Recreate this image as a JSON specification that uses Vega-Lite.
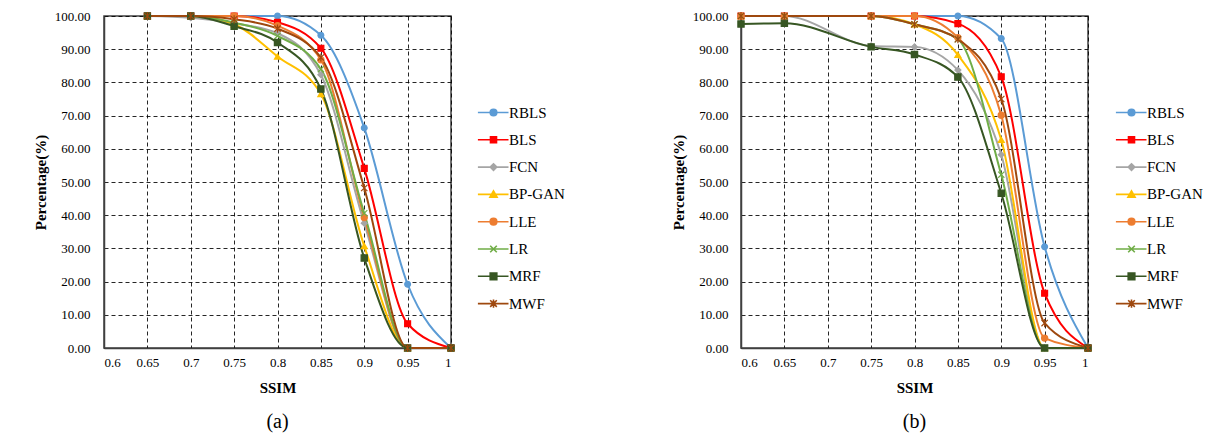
{
  "$schema": "https://vega.github.io/schema/vega-lite/v6.json",
  "background": "white",
  "padding": {"left": 32, "top": 8, "right": 2, "bottom": 2},
  "config": {
    "font": "Liberation Serif",
    "view": {"stroke": "#404040", "strokeWidth": 1.5},
    "axis": {
      "labelFont": "Liberation Serif", "labelFontSize": 13, "labelColor": "#000",
      "titleFont": "Liberation Serif", "titleFontSize": 15, "titleFontWeight": "bold", "titleColor": "#000",
      "gridColor": "#000", "gridDash": [4, 3], "gridWidth": 1, "gridOpacity": 0.85,
      "domainColor": "#404040", "domainWidth": 1.5, "ticks": false
    },
    "legend": {"labelFont": "Liberation Serif", "labelFontSize": 15, "labelColor": "#000"},
    "title": {"font": "Liberation Serif", "fontSize": 20, "fontWeight": "normal", "color": "#000"}
  },
  "datasets": {
    "a": [
      {"series": "RBLS", "SSIM": 0.65, "Percentage": 100}, {"series": "RBLS", "SSIM": 0.7, "Percentage": 100}, {"series": "RBLS", "SSIM": 0.75, "Percentage": 100}, {"series": "RBLS", "SSIM": 0.8, "Percentage": 100}, {"series": "RBLS", "SSIM": 0.85, "Percentage": 94.2}, {"series": "RBLS", "SSIM": 0.9, "Percentage": 66.3}, {"series": "RBLS", "SSIM": 0.95, "Percentage": 19.2}, {"series": "RBLS", "SSIM": 1.0, "Percentage": 0},
      {"series": "BLS", "SSIM": 0.65, "Percentage": 100}, {"series": "BLS", "SSIM": 0.7, "Percentage": 100}, {"series": "BLS", "SSIM": 0.75, "Percentage": 100}, {"series": "BLS", "SSIM": 0.8, "Percentage": 98.1}, {"series": "BLS", "SSIM": 0.85, "Percentage": 90.3}, {"series": "BLS", "SSIM": 0.9, "Percentage": 54.1}, {"series": "BLS", "SSIM": 0.95, "Percentage": 7.3}, {"series": "BLS", "SSIM": 1.0, "Percentage": 0},
      {"series": "FCN", "SSIM": 0.65, "Percentage": 100}, {"series": "FCN", "SSIM": 0.7, "Percentage": 99.5}, {"series": "FCN", "SSIM": 0.75, "Percentage": 97.8}, {"series": "FCN", "SSIM": 0.8, "Percentage": 94.8}, {"series": "FCN", "SSIM": 0.85, "Percentage": 82.3}, {"series": "FCN", "SSIM": 0.9, "Percentage": 37.6}, {"series": "FCN", "SSIM": 0.95, "Percentage": 0}, {"series": "FCN", "SSIM": 1.0, "Percentage": 0},
      {"series": "BP-GAN", "SSIM": 0.65, "Percentage": 100}, {"series": "BP-GAN", "SSIM": 0.7, "Percentage": 100}, {"series": "BP-GAN", "SSIM": 0.75, "Percentage": 97.5}, {"series": "BP-GAN", "SSIM": 0.8, "Percentage": 87.8}, {"series": "BP-GAN", "SSIM": 0.85, "Percentage": 76.5}, {"series": "BP-GAN", "SSIM": 0.9, "Percentage": 30.7}, {"series": "BP-GAN", "SSIM": 0.95, "Percentage": 0}, {"series": "BP-GAN", "SSIM": 1.0, "Percentage": 0},
      {"series": "LLE", "SSIM": 0.65, "Percentage": 100}, {"series": "LLE", "SSIM": 0.7, "Percentage": 100}, {"series": "LLE", "SSIM": 0.75, "Percentage": 100}, {"series": "LLE", "SSIM": 0.8, "Percentage": 97.1}, {"series": "LLE", "SSIM": 0.85, "Percentage": 86.8}, {"series": "LLE", "SSIM": 0.9, "Percentage": 39.3}, {"series": "LLE", "SSIM": 0.95, "Percentage": 0}, {"series": "LLE", "SSIM": 1.0, "Percentage": 0},
      {"series": "LR", "SSIM": 0.65, "Percentage": 100}, {"series": "LR", "SSIM": 0.7, "Percentage": 100}, {"series": "LR", "SSIM": 0.75, "Percentage": 98.0}, {"series": "LR", "SSIM": 0.8, "Percentage": 94.0}, {"series": "LR", "SSIM": 0.85, "Percentage": 84.0}, {"series": "LR", "SSIM": 0.9, "Percentage": 40.6}, {"series": "LR", "SSIM": 0.95, "Percentage": 0}, {"series": "LR", "SSIM": 1.0, "Percentage": 0},
      {"series": "MRF", "SSIM": 0.65, "Percentage": 100}, {"series": "MRF", "SSIM": 0.7, "Percentage": 100}, {"series": "MRF", "SSIM": 0.75, "Percentage": 96.9}, {"series": "MRF", "SSIM": 0.8, "Percentage": 92.0}, {"series": "MRF", "SSIM": 0.85, "Percentage": 78.0}, {"series": "MRF", "SSIM": 0.9, "Percentage": 27.1}, {"series": "MRF", "SSIM": 0.95, "Percentage": 0}, {"series": "MRF", "SSIM": 1.0, "Percentage": 0},
      {"series": "MWF", "SSIM": 0.65, "Percentage": 100}, {"series": "MWF", "SSIM": 0.7, "Percentage": 100}, {"series": "MWF", "SSIM": 0.75, "Percentage": 99.0}, {"series": "MWF", "SSIM": 0.8, "Percentage": 96.2}, {"series": "MWF", "SSIM": 0.85, "Percentage": 87.5}, {"series": "MWF", "SSIM": 0.9, "Percentage": 48.2}, {"series": "MWF", "SSIM": 0.95, "Percentage": 0}, {"series": "MWF", "SSIM": 1.0, "Percentage": 0}
    ],
    "b": [
      {"series": "RBLS", "SSIM": 0.6, "Percentage": 100}, {"series": "RBLS", "SSIM": 0.65, "Percentage": 100}, {"series": "RBLS", "SSIM": 0.75, "Percentage": 100}, {"series": "RBLS", "SSIM": 0.8, "Percentage": 100}, {"series": "RBLS", "SSIM": 0.85, "Percentage": 100}, {"series": "RBLS", "SSIM": 0.9, "Percentage": 93.2}, {"series": "RBLS", "SSIM": 0.95, "Percentage": 30.5}, {"series": "RBLS", "SSIM": 1.0, "Percentage": 0},
      {"series": "BLS", "SSIM": 0.6, "Percentage": 100}, {"series": "BLS", "SSIM": 0.65, "Percentage": 100}, {"series": "BLS", "SSIM": 0.75, "Percentage": 100}, {"series": "BLS", "SSIM": 0.8, "Percentage": 100}, {"series": "BLS", "SSIM": 0.85, "Percentage": 97.7}, {"series": "BLS", "SSIM": 0.9, "Percentage": 81.7}, {"series": "BLS", "SSIM": 0.95, "Percentage": 16.5}, {"series": "BLS", "SSIM": 1.0, "Percentage": 0},
      {"series": "FCN", "SSIM": 0.6, "Percentage": 100}, {"series": "FCN", "SSIM": 0.65, "Percentage": 100}, {"series": "FCN", "SSIM": 0.75, "Percentage": 91.0}, {"series": "FCN", "SSIM": 0.8, "Percentage": 90.7}, {"series": "FCN", "SSIM": 0.85, "Percentage": 83.7}, {"series": "FCN", "SSIM": 0.9, "Percentage": 58.2}, {"series": "FCN", "SSIM": 0.95, "Percentage": 0}, {"series": "FCN", "SSIM": 1.0, "Percentage": 0},
      {"series": "BP-GAN", "SSIM": 0.6, "Percentage": 100}, {"series": "BP-GAN", "SSIM": 0.65, "Percentage": 100}, {"series": "BP-GAN", "SSIM": 0.75, "Percentage": 100}, {"series": "BP-GAN", "SSIM": 0.8, "Percentage": 97.5}, {"series": "BP-GAN", "SSIM": 0.85, "Percentage": 88.3}, {"series": "BP-GAN", "SSIM": 0.9, "Percentage": 62.7}, {"series": "BP-GAN", "SSIM": 0.95, "Percentage": 0}, {"series": "BP-GAN", "SSIM": 1.0, "Percentage": 0},
      {"series": "LLE", "SSIM": 0.6, "Percentage": 100}, {"series": "LLE", "SSIM": 0.65, "Percentage": 100}, {"series": "LLE", "SSIM": 0.75, "Percentage": 100}, {"series": "LLE", "SSIM": 0.8, "Percentage": 100}, {"series": "LLE", "SSIM": 0.85, "Percentage": 93.5}, {"series": "LLE", "SSIM": 0.9, "Percentage": 70.1}, {"series": "LLE", "SSIM": 0.95, "Percentage": 3.0}, {"series": "LLE", "SSIM": 1.0, "Percentage": 0},
      {"series": "LR", "SSIM": 0.6, "Percentage": 100}, {"series": "LR", "SSIM": 0.65, "Percentage": 100}, {"series": "LR", "SSIM": 0.75, "Percentage": 100}, {"series": "LR", "SSIM": 0.8, "Percentage": 97.5}, {"series": "LR", "SSIM": 0.85, "Percentage": 93.0}, {"series": "LR", "SSIM": 0.9, "Percentage": 52.2}, {"series": "LR", "SSIM": 0.95, "Percentage": 0}, {"series": "LR", "SSIM": 1.0, "Percentage": 0},
      {"series": "MRF", "SSIM": 0.6, "Percentage": 97.6}, {"series": "MRF", "SSIM": 0.65, "Percentage": 97.8}, {"series": "MRF", "SSIM": 0.75, "Percentage": 90.7}, {"series": "MRF", "SSIM": 0.8, "Percentage": 88.4}, {"series": "MRF", "SSIM": 0.85, "Percentage": 81.6}, {"series": "MRF", "SSIM": 0.9, "Percentage": 46.6}, {"series": "MRF", "SSIM": 0.95, "Percentage": 0}, {"series": "MRF", "SSIM": 1.0, "Percentage": 0},
      {"series": "MWF", "SSIM": 0.6, "Percentage": 100}, {"series": "MWF", "SSIM": 0.65, "Percentage": 100}, {"series": "MWF", "SSIM": 0.75, "Percentage": 100}, {"series": "MWF", "SSIM": 0.8, "Percentage": 97.5}, {"series": "MWF", "SSIM": 0.85, "Percentage": 93.0}, {"series": "MWF", "SSIM": 0.9, "Percentage": 75.0}, {"series": "MWF", "SSIM": 0.95, "Percentage": 7.5}, {"series": "MWF", "SSIM": 1.0, "Percentage": 0}
    ]
  },
  "spacing": 104,
  "hconcat": [
    {
      "width": 347, "height": 332,
      "title": {"text": "(a)", "orient": "bottom", "anchor": "middle", "frame": "group", "offset": 17},
      "data": {"name": "a"},
      "encoding": {
        "x": {"field": "SSIM", "type": "quantitative", "scale": {"domain": [0.6, 1.0], "nice": false, "zero": false},
              "axis": {"values": [0.6, 0.65, 0.7, 0.75, 0.8, 0.85, 0.9, 0.95, 1.0], "format": "~g", "title": "SSIM", "labelPadding": 8, "titlePadding": 11}},
        "y": {"field": "Percentage", "type": "quantitative", "scale": {"domain": [0, 100], "nice": false},
              "axis": {"values": [0, 10, 20, 30, 40, 50, 60, 70, 80, 90, 100], "format": ".2f", "title": "Percentage(%)", "labelPadding": 14, "titlePadding": 6}}
      },
      "resolve": {"scale": {"color": "independent", "shape": "independent", "size": "independent", "stroke": "independent"},
                  "legend": {"color": "independent", "shape": "independent", "stroke": "independent"}},
      "layer": [
        {"mark": {"type": "line", "interpolate": "monotone", "strokeWidth": 2},
         "encoding": {
           "color": {"field": "series", "type": "nominal", "legend": null,
             "scale": {"domain": ["RBLS", "BLS", "FCN", "BP-GAN", "LLE", "LR", "MRF", "MWF"], "range": ["#5B9BD5", "#FF0000", "#A5A5A5", "#FFC000", "#ED7D31", "#70AD47", "#375623", "#9E480E"]}}
         }},
        {"mark": {"type": "point", "filled": true, "opacity": 1, "strokeWidth": 1.2},
         "encoding": {
           "color": {"field": "series", "type": "nominal", "legend": null,
             "scale": {"domain": ["RBLS", "BLS", "FCN", "BP-GAN", "LLE", "LR", "MRF", "MWF"], "range": ["#5B9BD5", "#FF0000", "#A5A5A5", "#FFC000", "#ED7D31", "#70AD47", "#375623", "#9E480E"]}},
           "shape": {"field": "series", "type": "nominal", "legend": null,
             "scale": {"domain": ["RBLS", "BLS", "FCN", "BP-GAN", "LLE", "LR", "MRF", "MWF"], "range": ["circle", "square", "diamond", "triangle-up", "circle", "M-1,-1L1,1M-1,1L1,-1", "square", "M-1,-1L1,1M-1,1L1,-1M0,-1.3V1.3"]}},
           "size": {"field": "series", "type": "nominal", "legend": null,
             "scale": {"domain": ["RBLS", "BLS", "FCN", "BP-GAN", "LLE", "LR", "MRF", "MWF"], "range": [34, 40, 40, 50, 34, 45, 60, 45]}},
           "stroke": {"field": "series", "type": "nominal", "legend": null,
             "scale": {"domain": ["RBLS", "BLS", "FCN", "BP-GAN", "LLE", "LR", "MRF", "MWF"], "range": ["#5B9BD5", "#FF0000", "#A5A5A5", "#FFC000", "#ED7D31", "#70AD47", "#375623", "#9E480E"]}}
         }},
        {"transform": [{"filter": "datum.Percentage > 1000"}],
         "mark": {"type": "point", "filled": true, "opacity": 1, "strokeWidth": 1.6, "size": 144},
         "encoding": {
           "color": {"field": "series", "type": "nominal",
             "scale": {"domain": ["RBLS", "BLS", "FCN", "BP-GAN", "LLE", "LR", "MRF", "MWF"], "range": ["#5B9BD5", "#FF0000", "#A5A5A5", "#FFC000", "#ED7D31", "#70AD47", "#375623", "#9E480E"]},
             "legend": {"title": null, "orient": "none", "legendX": 373, "legendY": 89, "padding": 0, "symbolSize": 144, "symbolOffset": 9, "labelOffset": 8, "rowPadding": 11.3, "symbolStrokeWidth": 1.6, "symbolOpacity": 1}},
           "shape": {"field": "series", "type": "nominal",
             "scale": {"domain": ["RBLS", "BLS", "FCN", "BP-GAN", "LLE", "LR", "MRF", "MWF"], "range": [
               "M-2.6,0H2.5M-0.55,0A0.55,0.55 0 1,0 0.55,0A0.55,0.55 0 1,0 -0.55,0Z",
               "M-2.6,0H2.5M-0.5,-0.5H0.5V0.5H-0.5Z",
               "M-2.6,0H2.5M0,-0.55L0.55,0L0,0.55L-0.55,0Z",
               "M-2.6,0H2.5M0,-0.6L0.6,0.45H-0.6Z",
               "M-2.6,0H2.5M-0.55,0A0.55,0.55 0 1,0 0.55,0A0.55,0.55 0 1,0 -0.55,0Z",
               "M-2.6,0H2.5M-0.55,-0.55L0.55,0.55M-0.55,0.55L0.55,-0.55",
               "M-2.6,0H2.5M-0.55,-0.55H0.55V0.55H-0.55Z",
               "M-2.6,0H2.5M-0.55,-0.55L0.55,0.55M-0.55,0.55L0.55,-0.55M0,-0.7V0.7"]},
             "legend": {"title": null, "orient": "none", "legendX": 373, "legendY": 89, "padding": 0, "symbolSize": 144, "symbolOffset": 9, "labelOffset": 8, "rowPadding": 11.3, "symbolStrokeWidth": 1.6, "symbolOpacity": 1}},
           "stroke": {"field": "series", "type": "nominal",
             "scale": {"domain": ["RBLS", "BLS", "FCN", "BP-GAN", "LLE", "LR", "MRF", "MWF"], "range": ["#5B9BD5", "#FF0000", "#A5A5A5", "#FFC000", "#ED7D31", "#70AD47", "#375623", "#9E480E"]},
             "legend": {"title": null, "orient": "none", "legendX": 373, "legendY": 89, "padding": 0, "symbolSize": 144, "symbolOffset": 9, "labelOffset": 8, "rowPadding": 11.3, "symbolStrokeWidth": 1.6, "symbolOpacity": 1}}
         }}
      ]
    },
    {
      "width": 347, "height": 332,
      "title": {"text": "(b)", "orient": "bottom", "anchor": "middle", "frame": "group", "offset": 17},
      "data": {"name": "b"},
      "encoding": {
        "x": {"field": "SSIM", "type": "quantitative", "scale": {"domain": [0.6, 1.0], "nice": false, "zero": false},
              "axis": {"values": [0.6, 0.65, 0.7, 0.75, 0.8, 0.85, 0.9, 0.95, 1.0], "format": "~g", "title": "SSIM", "labelPadding": 8, "titlePadding": 11}},
        "y": {"field": "Percentage", "type": "quantitative", "scale": {"domain": [0, 100], "nice": false},
              "axis": {"values": [0, 10, 20, 30, 40, 50, 60, 70, 80, 90, 100], "format": ".2f", "title": "Percentage(%)", "labelPadding": 13, "titlePadding": 6}}
      },
      "resolve": {"scale": {"color": "independent", "shape": "independent", "size": "independent", "stroke": "independent"},
                  "legend": {"color": "independent", "shape": "independent", "stroke": "independent"}},
      "layer": [
        {"mark": {"type": "line", "interpolate": "monotone", "strokeWidth": 2},
         "encoding": {
           "color": {"field": "series", "type": "nominal", "legend": null,
             "scale": {"domain": ["RBLS", "BLS", "FCN", "BP-GAN", "LLE", "LR", "MRF", "MWF"], "range": ["#5B9BD5", "#FF0000", "#A5A5A5", "#FFC000", "#ED7D31", "#70AD47", "#375623", "#9E480E"]}}
         }},
        {"mark": {"type": "point", "filled": true, "opacity": 1, "strokeWidth": 1.2},
         "encoding": {
           "color": {"field": "series", "type": "nominal", "legend": null,
             "scale": {"domain": ["RBLS", "BLS", "FCN", "BP-GAN", "LLE", "LR", "MRF", "MWF"], "range": ["#5B9BD5", "#FF0000", "#A5A5A5", "#FFC000", "#ED7D31", "#70AD47", "#375623", "#9E480E"]}},
           "shape": {"field": "series", "type": "nominal", "legend": null,
             "scale": {"domain": ["RBLS", "BLS", "FCN", "BP-GAN", "LLE", "LR", "MRF", "MWF"], "range": ["circle", "square", "diamond", "triangle-up", "circle", "M-1,-1L1,1M-1,1L1,-1", "square", "M-1,-1L1,1M-1,1L1,-1M0,-1.3V1.3"]}},
           "size": {"field": "series", "type": "nominal", "legend": null,
             "scale": {"domain": ["RBLS", "BLS", "FCN", "BP-GAN", "LLE", "LR", "MRF", "MWF"], "range": [34, 40, 40, 50, 34, 45, 60, 45]}},
           "stroke": {"field": "series", "type": "nominal", "legend": null,
             "scale": {"domain": ["RBLS", "BLS", "FCN", "BP-GAN", "LLE", "LR", "MRF", "MWF"], "range": ["#5B9BD5", "#FF0000", "#A5A5A5", "#FFC000", "#ED7D31", "#70AD47", "#375623", "#9E480E"]}}
         }},
        {"transform": [{"filter": "datum.Percentage > 1000"}],
         "mark": {"type": "point", "filled": true, "opacity": 1, "strokeWidth": 1.6, "size": 144},
         "encoding": {
           "color": {"field": "series", "type": "nominal",
             "scale": {"domain": ["RBLS", "BLS", "FCN", "BP-GAN", "LLE", "LR", "MRF", "MWF"], "range": ["#5B9BD5", "#FF0000", "#A5A5A5", "#FFC000", "#ED7D31", "#70AD47", "#375623", "#9E480E"]},
             "legend": {"title": null, "orient": "none", "legendX": 374, "legendY": 89, "padding": 0, "symbolSize": 144, "symbolOffset": 9, "labelOffset": 8, "rowPadding": 11.3, "symbolStrokeWidth": 1.6, "symbolOpacity": 1}},
           "shape": {"field": "series", "type": "nominal",
             "scale": {"domain": ["RBLS", "BLS", "FCN", "BP-GAN", "LLE", "LR", "MRF", "MWF"], "range": [
               "M-2.6,0H2.5M-0.55,0A0.55,0.55 0 1,0 0.55,0A0.55,0.55 0 1,0 -0.55,0Z",
               "M-2.6,0H2.5M-0.5,-0.5H0.5V0.5H-0.5Z",
               "M-2.6,0H2.5M0,-0.55L0.55,0L0,0.55L-0.55,0Z",
               "M-2.6,0H2.5M0,-0.6L0.6,0.45H-0.6Z",
               "M-2.6,0H2.5M-0.55,0A0.55,0.55 0 1,0 0.55,0A0.55,0.55 0 1,0 -0.55,0Z",
               "M-2.6,0H2.5M-0.55,-0.55L0.55,0.55M-0.55,0.55L0.55,-0.55",
               "M-2.6,0H2.5M-0.55,-0.55H0.55V0.55H-0.55Z",
               "M-2.6,0H2.5M-0.55,-0.55L0.55,0.55M-0.55,0.55L0.55,-0.55M0,-0.7V0.7"]},
             "legend": {"title": null, "orient": "none", "legendX": 374, "legendY": 89, "padding": 0, "symbolSize": 144, "symbolOffset": 9, "labelOffset": 8, "rowPadding": 11.3, "symbolStrokeWidth": 1.6, "symbolOpacity": 1}},
           "stroke": {"field": "series", "type": "nominal",
             "scale": {"domain": ["RBLS", "BLS", "FCN", "BP-GAN", "LLE", "LR", "MRF", "MWF"], "range": ["#5B9BD5", "#FF0000", "#A5A5A5", "#FFC000", "#ED7D31", "#70AD47", "#375623", "#9E480E"]},
             "legend": {"title": null, "orient": "none", "legendX": 374, "legendY": 89, "padding": 0, "symbolSize": 144, "symbolOffset": 9, "labelOffset": 8, "rowPadding": 11.3, "symbolStrokeWidth": 1.6, "symbolOpacity": 1}}
         }}
      ]
    }
  ]
}
